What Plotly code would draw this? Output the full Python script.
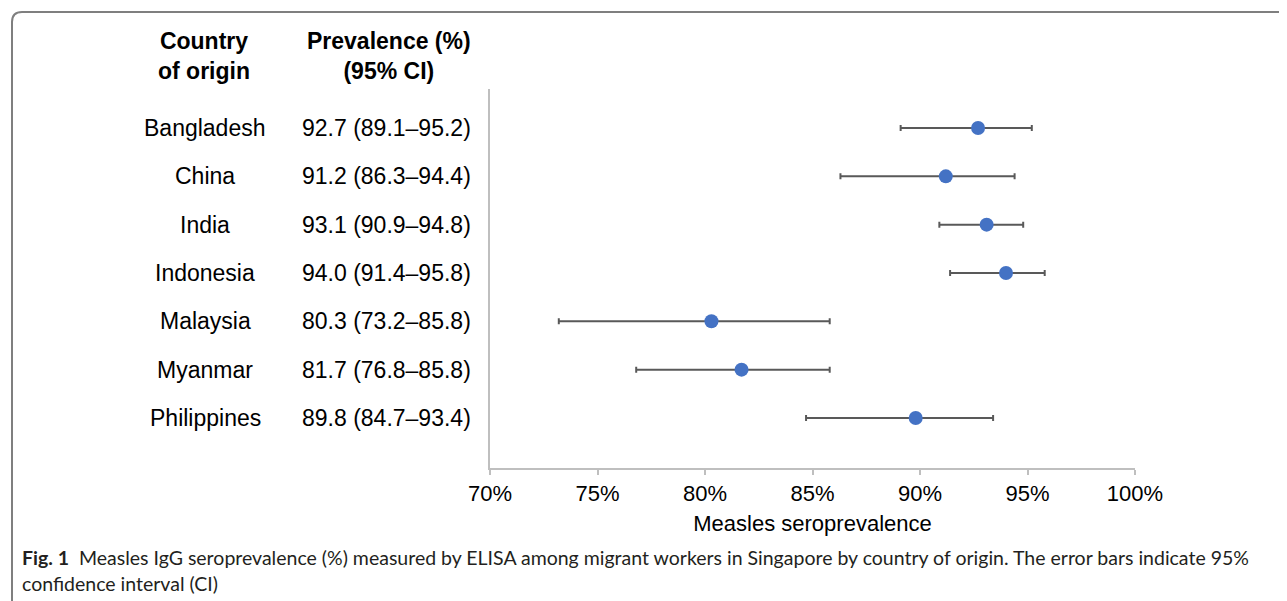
import plotly.graph_objects as go

countries = ["Bangladesh", "China", "India", "Indonesia", "Malaysia", "Myanmar", "Philippines"]
prevalence = [92.7, 91.2, 93.1, 94.0, 80.3, 81.7, 89.8]
ci_low = [89.1, 86.3, 90.9, 91.4, 73.2, 76.8, 84.7]
ci_high = [95.2, 94.4, 94.8, 95.8, 85.8, 85.8, 93.4]
x_ticks = [70, 75, 80, 85, 90, 95, 100]
x_tick_labels = ["70%", "75%", "80%", "85%", "90%", "95%", "100%"]

OFF = 8  # page body margin in the browser
SCREEN_W, SCREEN_H = 1287, 601
W, H = SCREEN_W - OFF, SCREEN_H - OFF
L, R, T, B = 490, 1135, 89, 468  # plot area in screenshot pixels


def px(xp):
    return (xp - L) / (R - L)


def py(yp):
    return (B - yp) / (B - T)


labels = [f"{p:.1f} ({lo:.1f}\u2013{hi:.1f})" for p, lo, hi in zip(prevalence, ci_low, ci_high)]
ypos = list(range(len(countries)))

fig = go.Figure()
fig.add_trace(go.Scatter(
    x=prevalence,
    y=ypos,
    mode="markers",
    marker=dict(size=14, color="#4472C4"),
    error_x=dict(
        type="data",
        symmetric=False,
        array=[h - p for h, p in zip(ci_high, prevalence)],
        arrayminus=[p - l for p, l in zip(prevalence, ci_low)],
        color="#595959",
        thickness=2,
        width=3,
    ),
    showlegend=False,
    hoverinfo="skip",
))

font_main = "Liberation Sans, Arial, sans-serif"
TXT = 23
annotations = []
for i, (c, lab) in enumerate(zip(countries, labels)):
    annotations.append(dict(x=px(205), y=i, xref="paper", yref="y", text=c, showarrow=False,
                            xanchor="center", yanchor="middle",
                            font=dict(family=font_main, size=TXT, color="#000000")))
    annotations.append(dict(x=px(386), y=i, xref="paper", yref="y", text=lab, showarrow=False,
                            xanchor="center", yanchor="middle",
                            font=dict(family=font_main, size=TXT, color="#000000")))

annotations.append(dict(x=px(204), y=py(56), xref="paper", yref="paper",
                        text="<b>Country</b><br><b>of origin</b>", showarrow=False,
                        xanchor="center", yanchor="middle",
                        font=dict(family=font_main, size=TXT, color="#000000")))
annotations.append(dict(x=px(389), y=py(56), xref="paper", yref="paper",
                        text="<b>Prevalence (%)</b><br><b>(95% CI)</b>", showarrow=False,
                        xanchor="center", yanchor="middle",
                        font=dict(family=font_main, size=TXT, color="#000000")))

cap_font = dict(family="Lato, Open Sans, sans-serif", size=19.5, color="#231F20")
annotations.append(dict(x=px(20), y=py(557), xref="paper", yref="paper",
                        text="<b>Fig. 1</b>  Measles IgG seroprevalence (%) measured by ELISA among migrant workers in Singapore by country of origin. The error bars indicate 95%",
                        showarrow=False, xanchor="left", yanchor="middle", font=cap_font))
annotations.append(dict(x=px(20), y=py(583), xref="paper", yref="paper",
                        text="confidence interval (CI)",
                        showarrow=False, xanchor="left", yanchor="middle", font=cap_font))

frame_path = (f"M {px(1300)},{py(12)} L {px(22)},{py(12)} "
              f"Q {px(12)},{py(12)} {px(12)},{py(22)} L {px(12)},{py(620)}")

fig.update_layout(
    width=W, height=H,
    margin=dict(l=L - OFF, r=W - (R - OFF), t=T - OFF, b=H - (B - OFF), pad=0),
    paper_bgcolor="white",
    plot_bgcolor="white",
    annotations=annotations,
    shapes=[dict(type="path", path=frame_path, xref="paper", yref="paper",
                 line=dict(color="#7F7F7F", width=2))],
    xaxis=dict(
        range=[70, 100],
        tickvals=x_ticks,
        ticktext=x_tick_labels,
        showline=True, linecolor="#BFBFBF", linewidth=1.5,
        ticks="outside", ticklen=5, tickcolor="#BFBFBF", tickwidth=1.5,
        showgrid=False, zeroline=False,
        tickfont=dict(family=font_main, size=22, color="#000000"),
        title=dict(text="Measles seroprevalence", standoff=10,
                   font=dict(family=font_main, size=22, color="#000000")),
    ),
    yaxis=dict(
        range=[7.035, -0.807],
        showline=True, linecolor="#BFBFBF", linewidth=1.5,
        showticklabels=False, ticks="", showgrid=False, zeroline=False,
    ),
)

fig.write_html("out.html")
